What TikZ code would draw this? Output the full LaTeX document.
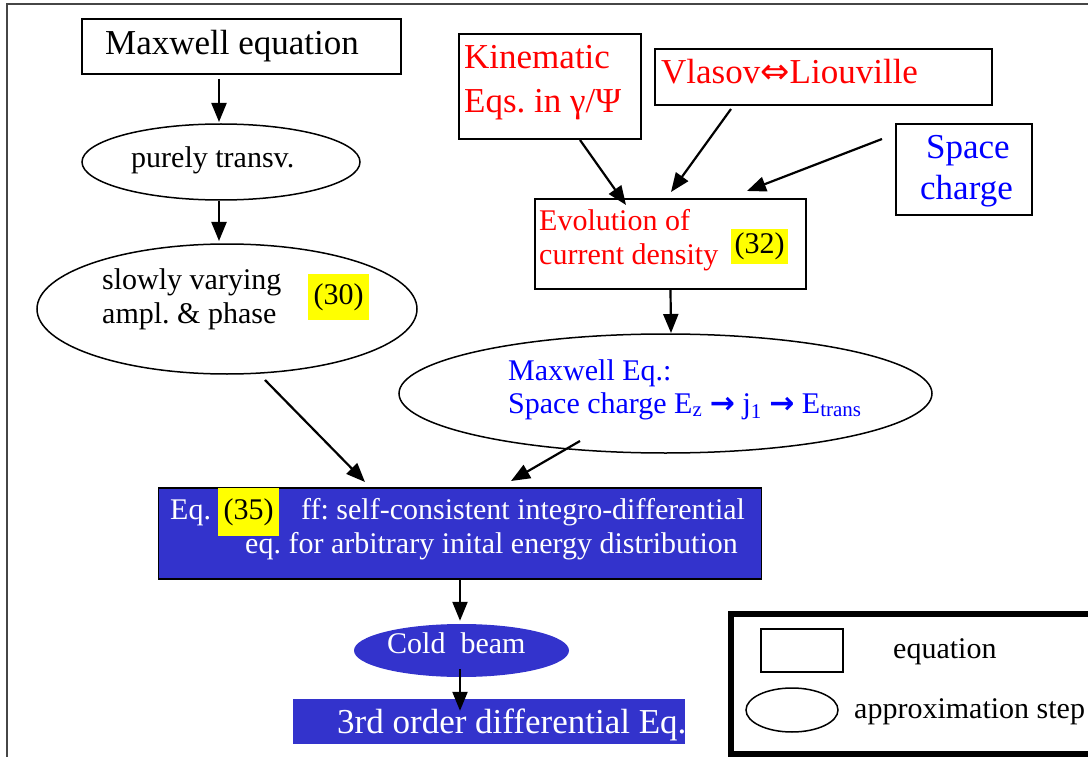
\documentclass[tikz,border=0pt]{standalone}
\usepackage{fontspec}
\setmainfont{Liberation Serif}
\newfontfamily\arrowfont{DejaVu Sans}
\usepackage{tikz}
\usetikzlibrary{positioning}
\usetikzlibrary{shapes.geometric,arrows.meta}

\definecolor{BoxBlue}{RGB}{51,51,204}
\definecolor{TagYellow}{RGB}{255,255,0}
\definecolor{FrameGray}{RGB}{70,70,70}

\tikzset{
	eqbox/.style={draw, line width=1.5pt, rectangle, inner sep=0pt, outer sep=0pt},
	apprx/.style={draw, line width=1.5pt, ellipse, inner sep=0pt, outer sep=0pt},
	tag/.style={fill=TagYellow, inner sep=0pt, text=black, font=\fontsize{30}{36}\selectfont},
	txt/.style={anchor=base west, inner sep=0pt},
	big/.style={font=\fontsize{35}{42}\selectfont},
	small/.style={font=\fontsize{30}{36}\selectfont},
	flow/.style={line width=2.2pt, -{Triangle[length=19pt,width=15pt]}},
}

\begin{document}
\frenchspacing
\begin{tikzpicture}[x=1pt, y=-1pt]
	
	% ------------------------------------------------
	% Page size and outer frame
	\clip (0,0) rectangle (1088,757);
	\draw[FrameGray, line width=2pt] (7,4) rectangle (1100,800);
	
	% ------------------------------------------------
	% Left column
	\node[eqbox, minimum width=319pt, minimum height=55pt] (MaxwellBox) at (241.5,46.5) {};
	\node[apprx, minimum width=278pt, minimum height=76pt] (PurelyEll) at (221,162) {};
	\node[apprx, minimum width=380pt, minimum height=130pt] (SlowEll) at (227,309) {};
	
	\node[txt, big] (MaxwellTxt) at (105,55) {Maxwell equation};
	\node[txt, small] (PurelyTxt) at (131,168) {purely transv.};
	\node[txt, small] (SlowTxtA) at (102,289) {slowly varying};
	\node[txt, small] (SlowTxtB) at (102,323) {ampl. \& phase};
	\node[tag, minimum width=61pt, minimum height=46pt] (SlowTag) at (338.5,297) {(30)};
	
	% ------------------------------------------------
	% Right column
	\node[eqbox, minimum width=182pt, minimum height=105pt] (KinBox) at (550,86.5) {};
	\node[eqbox, minimum width=337pt, minimum height=56pt] (VlasovBox) at (823.5,77) {};
	\node[eqbox, minimum width=136pt, minimum height=91pt] (SpaceBox) at (964,169.5) {};
	\node[eqbox, minimum width=271pt, minimum height=90pt] (EvolBox) at (670.5,244) {};
	\node[apprx, minimum width=533pt, minimum height=119pt] (MxEqEll) at (665.5,393.5) {};
	
	\node[txt, big, text=red] (KinTxtA) at (464,69) {Kinematic};
	\node[txt, big, text=red] (KinTxtB) at (464,113) {Eqs. in γ/Ψ};
	\node[txt, big, text=red] (VlasovTxt) at (661,84) {Vlasov{\arrowfont ⇔}Liouville};
	\node[txt, big, text=blue] (SpaceTxtA) at (926,159) {Space};
	\node[txt, big, text=blue] (SpaceTxtB) at (920,200) {charge};
	\node[txt, small, text=red] (EvolTxtA) at (539,230) {Evolution of};
	\node[txt, small, text=red] (EvolTxtB) at (539,265) {current density};
	\node[tag, minimum width=57pt, minimum height=35pt] (EvolTag) at (759.5,246.5) {(32)};
	\node[txt, small, text=blue] (MxEqTxtA) at (508,380) {Maxwell Eq.:};
	\node[txt, small, text=blue] (MxEqTxtB) at (508,413)
		{Space charge E\textsubscript{z} {\arrowfont\bfseries →} j\textsubscript{1} {\arrowfont\bfseries →} E\textsubscript{trans}};
	
	% ------------------------------------------------
	% Bottom part
	\node[eqbox, fill=BoxBlue, minimum width=603pt, minimum height=91pt] (FFBox) at (460,533.5) {};
	\node[ellipse, fill=BoxBlue, inner sep=0pt, minimum width=215pt, minimum height=53pt] (ColdEll) at (461.5,650.5) {};
	\node[rectangle, fill=BoxBlue, inner sep=0pt, minimum width=392pt, minimum height=45pt] (ThirdBox) at (489,721.5) {};
	
	\node[txt, small, text=white] (FFTxtA) at (170,519) {Eq.};
	\node[tag, minimum width=61pt, minimum height=48pt] (FFTag) at (248.5,512) {(35)};
	\node[txt, small, text=white] (FFTxtB) at (301,519) {ff: self-consistent integro-differential};
	\node[txt, small, text=white] (FFTxtC) at (245,553) {eq. for arbitrary inital energy distribution};
	\node[txt, small, text=white] (ColdTxt) at (387,653) {Cold\ \ beam};
	\node[txt, big, text=white] (ThirdTxt) at (337,733) {3rd order differential Eq.};
	
	% ------------------------------------------------
	% Legend
	\node[draw, line width=6pt, rectangle, inner sep=0pt, minimum width=380pt, minimum height=140pt] (LegendBox) at (921,684) {};
	\node[eqbox, minimum width=82pt, minimum height=43pt] (LegRect) at (802,650.5) {};
	\node[apprx, minimum width=92pt, minimum height=44pt] (LegEll) at (792,710) {};
	\node[txt, small] (LegTxtA) at (893,658) {equation};
	\node[txt, small] (LegTxtB) at (854,718) {approximation step};
	
	% ----------------
	% Arrows
	\draw[flow] ([xshift=-22.5pt, yshift=-5pt]MaxwellBox.south) -- ([xshift=-2pt, yshift=2pt]PurelyEll.north);
	\draw[flow] ([xshift=-2pt, yshift=-1pt]PurelyEll.south) -- ([xshift=-8pt, yshift=3pt]SlowEll.north);
	\draw[flow] ([xshift=30pt, yshift=-1pt]KinBox.south) -- ([xshift=-44.5pt, yshift=-6pt]EvolBox.north);
	\draw[flow] ([xshift=-92.5pt, yshift=-4pt]VlasovBox.south) -- ([xshift=0.5pt, yshift=7pt]EvolBox.north);
	\draw[flow] ([xshift=-14pt, yshift=30.5pt]SpaceBox.west) -- ([xshift=76.5pt, yshift=8pt]EvolBox.north);
	\draw[flow] ([yshift=-1pt]EvolBox.south) -- ([xshift=5.5pt, yshift=1pt]MxEqEll.north);
	\draw[flow] ([xshift=38pt, yshift=-6pt]SlowEll.south) -- ([xshift=-95pt, yshift=6pt]FFBox.north);
	\draw[flow] ([xshift=-85.5pt, yshift=12pt]MxEqEll.south) -- ([xshift=51pt, yshift=7pt]FFBox.north);
	\draw[flow] (FFBox.south) -- ([xshift=-1.5pt, yshift=3pt]ColdEll.north);
	\draw[flow] ([xshift=-1.5pt, yshift=-18.5pt]ColdEll.center) -- ([xshift=-29pt, yshift=-12pt]ThirdBox.north);
	
\end{tikzpicture}
\end{document}
